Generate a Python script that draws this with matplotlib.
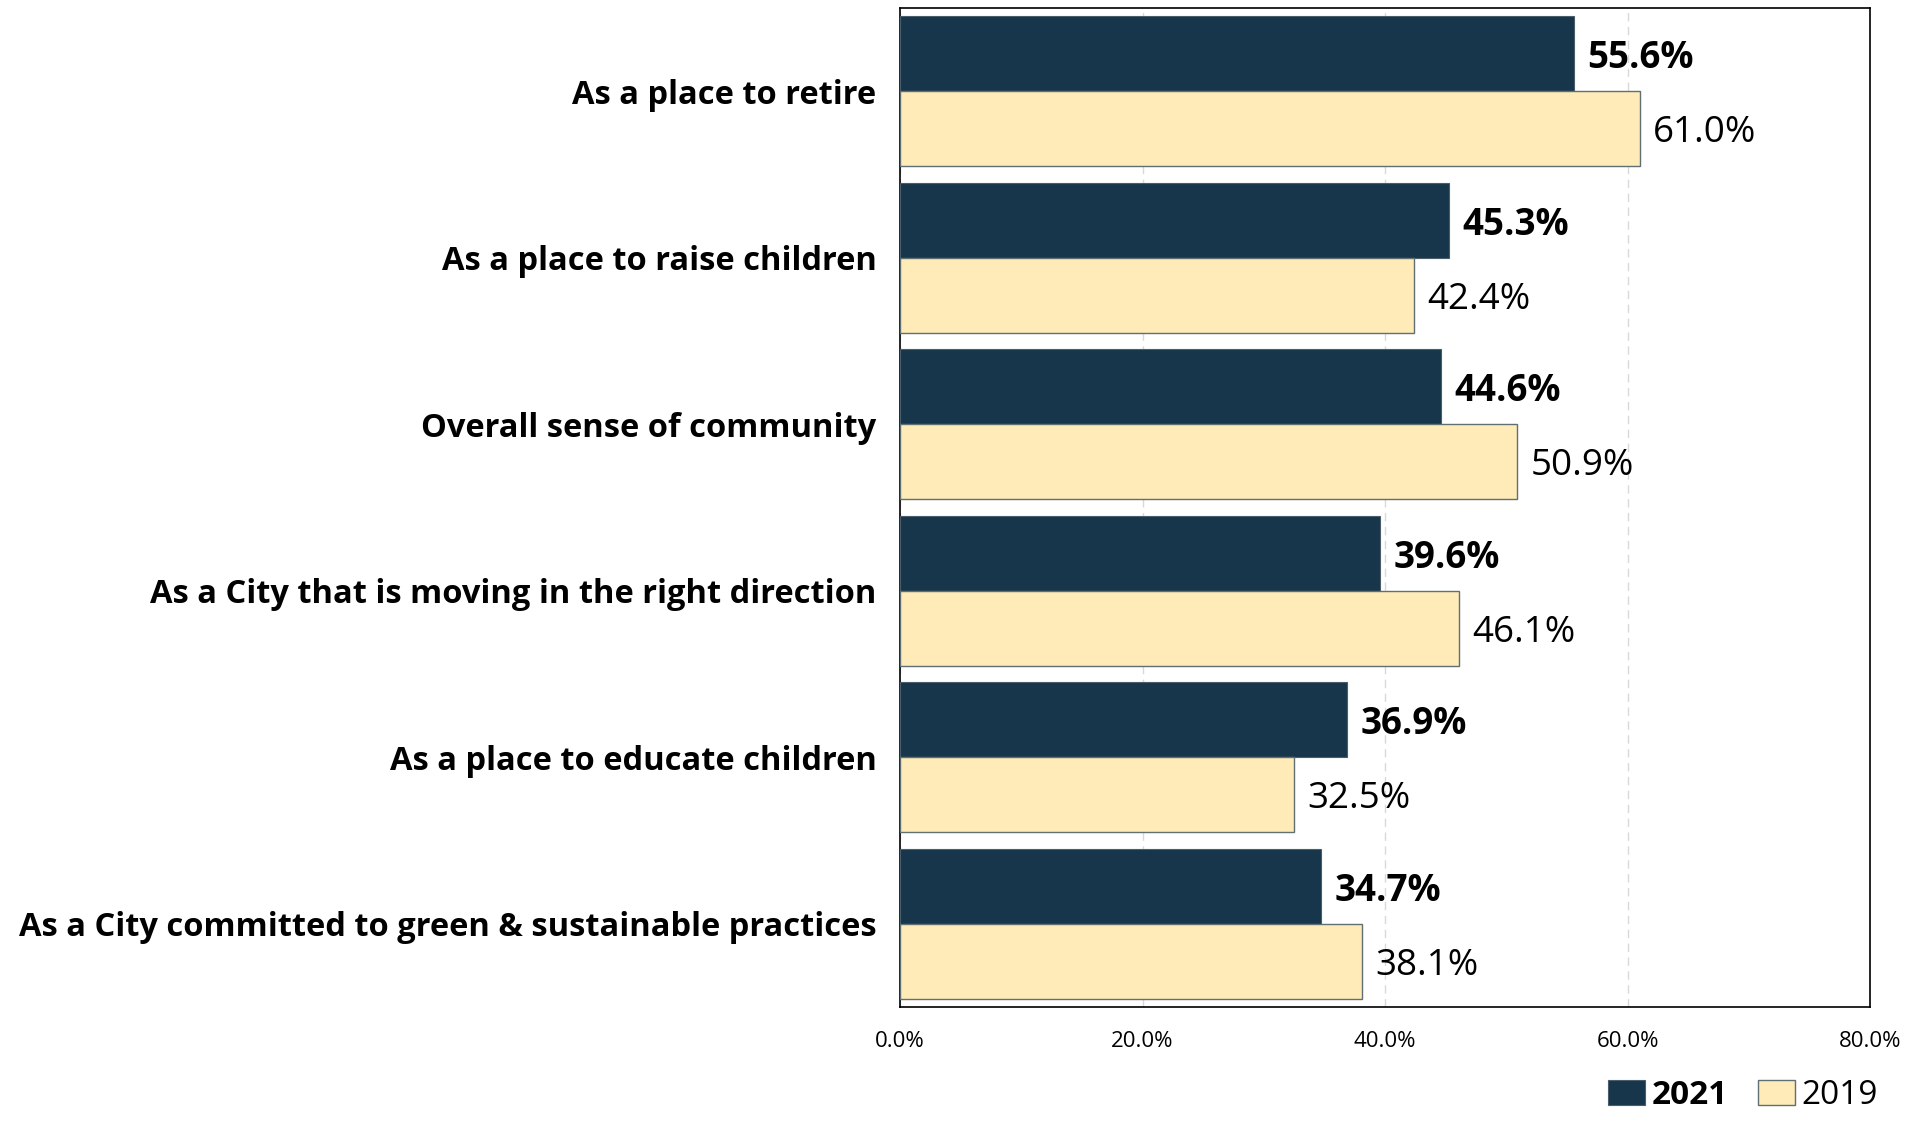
import numpy as np
import matplotlib
matplotlib.use("Agg")
import matplotlib.pyplot as plt
from matplotlib.ticker import FuncFormatter

plt.rcParams['font.family'] = ['Open Sans', 'DejaVu Sans']

categories = [
    "As a place to retire",
    "As a place to raise children",
    "Overall sense of community",
    "As a City that is moving in the right direction",
    "As a place to educate children",
    "As a City committed to green & sustainable practices",
]
vals_2021 = [55.6, 45.3, 44.6, 39.6, 36.9, 34.7]
vals_2019 = [61.0, 42.4, 50.9, 46.1, 32.5, 38.1]

navy = "#17364b"
cream = "#ffebb7"

fig = plt.figure(figsize=(19.26, 11.22), dpi=100)
ax = fig.add_axes([900 / 1926, 1 - 1007 / 1122, 970 / 1926, (1007 - 8) / 1122])

y = np.arange(len(categories))
h = 0.45
ax.barh(y - h / 2, vals_2021, height=h, color=navy, edgecolor="#4a5d6a", linewidth=0.8, label="2021", zorder=3)
ax.barh(y + h / 2, vals_2019, height=h, color=cream, edgecolor="#5f6f73", linewidth=1.0, label="2019", zorder=3)

# value labels: bold for 2021, regular for 2019
for yi, v in zip(y, vals_2021):
    ax.text(v + 1.1, yi - h / 2, f"{v:.1f}%", va="center_baseline", ha="left", fontsize=26.5, fontweight="bold")
for yi, v in zip(y, vals_2019):
    ax.text(v + 1.1, yi + h / 2, f"{v:.1f}%", va="center_baseline", ha="left", fontsize=26.5)

ax.set_xlim(0, 80)
ax.set_ylim(len(categories) - 0.5, -0.5)
ax.set_xticks([0, 20, 40, 60, 80])
ax.xaxis.set_major_formatter(FuncFormatter(lambda x, p: f"{x:.1f}%"))
ax.set_yticks(y)
ax.set_yticklabels(categories, fontsize=23.5, fontweight="bold")
ax.tick_params(axis="y", length=0, pad=17)
ax.tick_params(axis="x", length=0, labelsize=16, pad=17)
ax.grid(axis="x", color="#d9d9d9", linestyle=(0, (6, 4)), linewidth=1, zorder=0)
for s in ax.spines.values():
    s.set_color("black")
    s.set_linewidth(1.2)

leg = fig.legend(loc="lower right", bbox_to_anchor=(0.987, -0.012), ncol=2, frameon=False,
                 fontsize=24, handlelength=1.1, handleheight=0.8, handletextpad=0.2,
                 columnspacing=0.9, borderpad=0.2)
leg.get_texts()[0].set_fontweight("bold")

fig.savefig("out.png", dpi=100)
